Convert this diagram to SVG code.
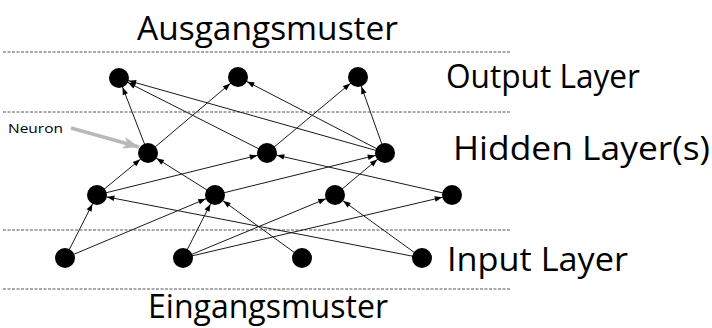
<svg xmlns="http://www.w3.org/2000/svg" width="712" height="328" viewBox="0 0 712 328">
  <style>
    .sep { stroke: #555; stroke-width: 1; stroke-dasharray: 3 1.5; fill: none; }
    .edge { stroke: #1a1a1a; stroke-width: 1; fill: none; marker-end: url(#head); }
    .node { fill: #000; }
    .big { font-family: "Open Sans", "DejaVu Sans", sans-serif; font-size: 32px; fill: #000; }
    .small { font-family: "Open Sans", "DejaVu Sans", sans-serif; font-size: 12.5px; fill: #000; }
  </style>
  <defs>
    <!-- arrowhead tip sits 10px before the line end (the node radius) -->
    <marker id="head" markerUnits="userSpaceOnUse" markerWidth="40" markerHeight="10" viewBox="0 -5 40 10" refX="40" refY="0" orient="auto">
      <path d="M30,0 L22.5,-2.8 L22.5,2.8 z" fill="#000"/>
    </marker>
    <marker id="greyhead" markerUnits="userSpaceOnUse" markerWidth="18" markerHeight="14" viewBox="0 -7 18 14" refX="16" refY="0" orient="auto">
      <path d="M16,0 L0,-6 L4,0 L0,6 z" fill="#b8b8b8"/>
    </marker>
  </defs>
  <rect width="712" height="328" fill="#fff"/>

  <!-- layer separators -->
  <g id="separators">
    <line class="sep" x1="3" y1="52" x2="511" y2="52"/>
    <line class="sep" x1="3" y1="112" x2="511" y2="112"/>
    <line class="sep" x1="3" y1="230" x2="511" y2="230"/>
    <line class="sep" x1="3" y1="289" x2="511" y2="289"/>
  </g>

  <!-- connectors -->
  <g id="connectors">
    <line class="edge" x1="65" y1="258" x2="97" y2="195"/>
    <line class="edge" x1="65" y1="258" x2="215" y2="195"/>
    <line class="edge" x1="183" y1="258" x2="215" y2="195"/>
    <line class="edge" x1="183" y1="258" x2="335" y2="195"/>
    <line class="edge" x1="183" y1="258" x2="452" y2="195"/>
    <line class="edge" x1="302" y1="258" x2="215" y2="195"/>
    <line class="edge" x1="422" y1="258" x2="97" y2="195"/>
    <line class="edge" x1="422" y1="258" x2="335" y2="195"/>
    <line class="edge" x1="97" y1="195" x2="148" y2="153"/>
    <line class="edge" x1="97" y1="195" x2="267" y2="153"/>
    <line class="edge" x1="215" y1="195" x2="148" y2="153"/>
    <line class="edge" x1="215" y1="195" x2="385" y2="153"/>
    <line class="edge" x1="335" y1="195" x2="385" y2="153"/>
    <line class="edge" x1="452" y1="195" x2="267" y2="153"/>
    <line class="edge" x1="148" y1="153" x2="119" y2="78"/>
    <line class="edge" x1="148" y1="153" x2="238" y2="77"/>
    <line class="edge" x1="267" y1="153" x2="119" y2="78"/>
    <line class="edge" x1="267" y1="153" x2="358" y2="77"/>
    <line class="edge" x1="385" y1="153" x2="119" y2="78"/>
    <line class="edge" x1="385" y1="153" x2="238" y2="77"/>
    <line class="edge" x1="385" y1="153" x2="358" y2="77"/>
  </g>

  <!-- output layer -->
  <g id="o1"><circle class="node" cx="119" cy="78" r="10"/></g>
  <g id="o2"><circle class="node" cx="238" cy="77" r="10"/></g>
  <g id="o3"><circle class="node" cx="358" cy="77" r="10"/></g>
  <!-- upper hidden layer -->
  <g id="h1"><circle class="node" cx="148" cy="153" r="10"/></g>
  <g id="h2"><circle class="node" cx="267" cy="153" r="10"/></g>
  <g id="h3"><circle class="node" cx="385" cy="153" r="10"/></g>
  <!-- lower hidden layer -->
  <g id="l1"><circle class="node" cx="97" cy="195" r="10"/></g>
  <g id="l2"><circle class="node" cx="215" cy="195" r="10"/></g>
  <g id="l3"><circle class="node" cx="335" cy="195" r="10"/></g>
  <g id="l4"><circle class="node" cx="452" cy="195" r="10"/></g>
  <!-- input layer -->
  <g id="i1"><circle class="node" cx="65" cy="258" r="10"/></g>
  <g id="i2"><circle class="node" cx="183" cy="258" r="10"/></g>
  <g id="i3"><circle class="node" cx="302" cy="258" r="10"/></g>
  <g id="i4"><circle class="node" cx="422" cy="258" r="10"/></g>

  <!-- neuron callout -->
  <g id="neuron-label">
    <line x1="71" y1="128" x2="139" y2="147" stroke="#b8b8b8" stroke-width="3.5" marker-end="url(#greyhead)"/>
    <text class="small" x="8" y="133" textLength="55" lengthAdjust="spacingAndGlyphs">Neuron</text>
  </g>

  <!-- titles and layer names -->
  <g id="labels">
    <text class="big" x="137" y="40" font-size="36" textLength="261" lengthAdjust="spacingAndGlyphs">Ausgangsmuster</text>
    <text class="big" x="446" y="88" textLength="194" lengthAdjust="spacingAndGlyphs">Output Layer</text>
    <text class="big" x="453" y="160" font-size="33" textLength="257" lengthAdjust="spacingAndGlyphs">Hidden Layer(s)</text>
    <text class="big" x="447" y="271" font-size="33" textLength="181" lengthAdjust="spacingAndGlyphs">Input Layer</text>
    <text class="big" x="148" y="318" font-size="33" textLength="240" lengthAdjust="spacingAndGlyphs">Eingangsmuster</text>
  </g>
</svg>
